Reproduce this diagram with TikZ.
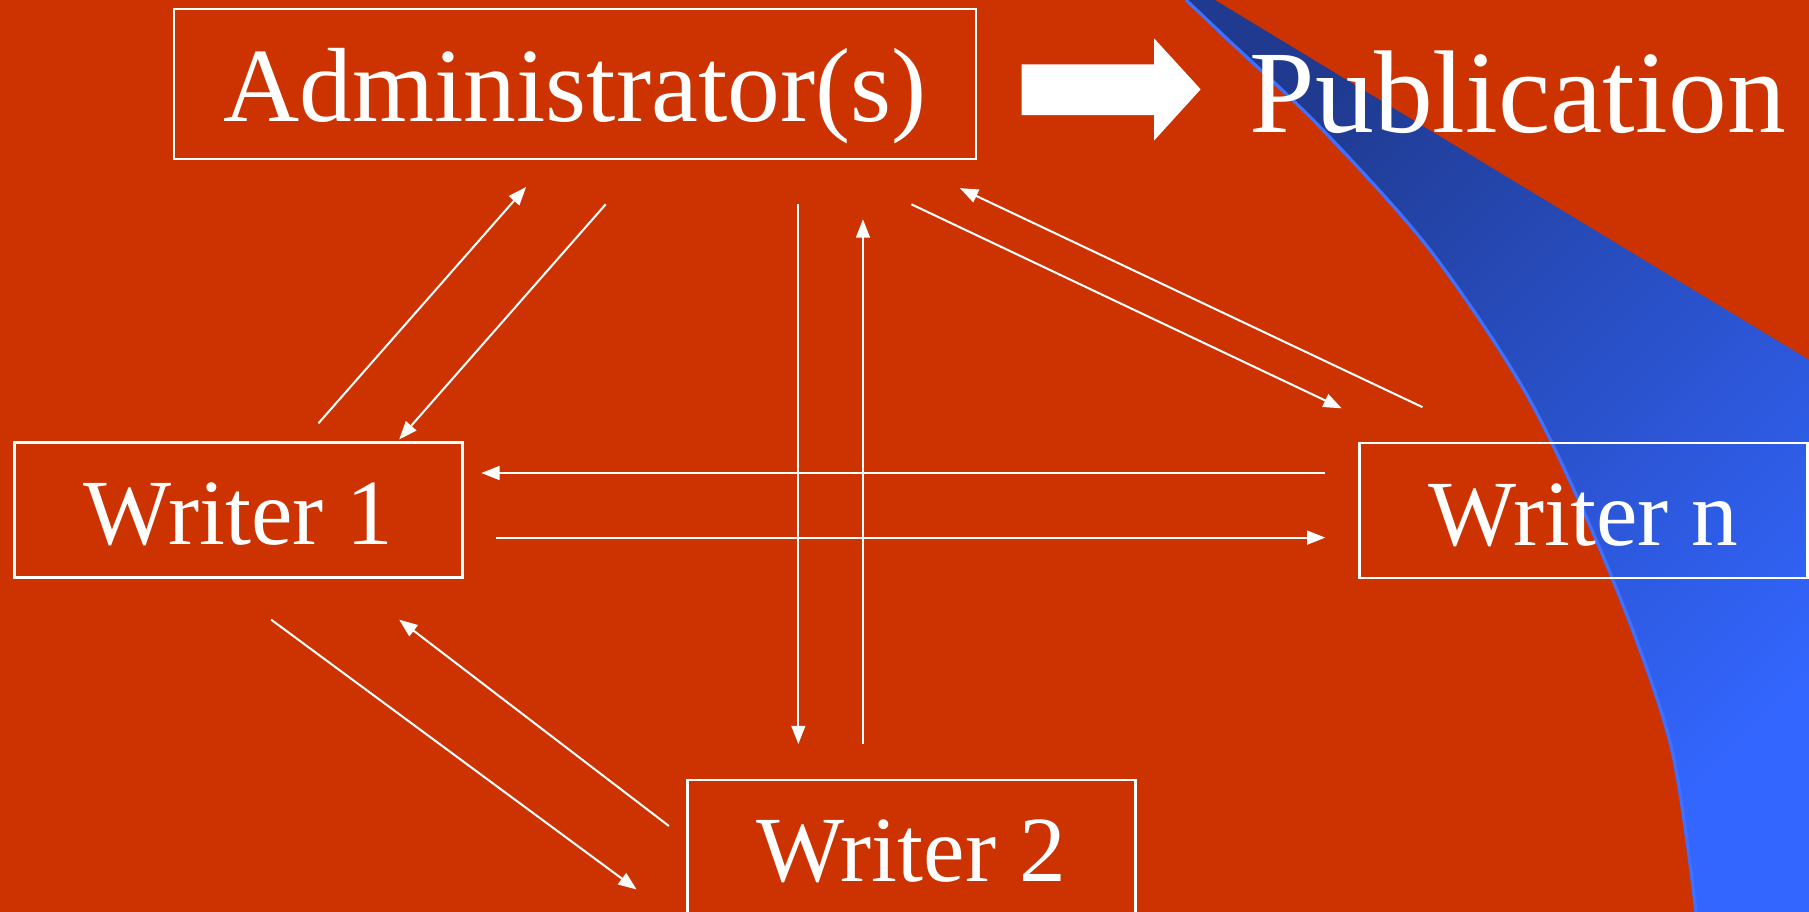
\documentclass[tikz,border=0pt]{standalone}
\usepackage{fontspec}
\setmainfont{Liberation Serif}
\usetikzlibrary{arrows.meta,calc}

\definecolor{slidered}{RGB}{204,51,0}
\definecolor{swooshdark}{RGB}{31,58,143}
\definecolor{swooshblue}{RGB}{51,102,255}
\definecolor{swooshedge}{RGB}{64,112,255}

\tikzset{
  box/.style={draw=white,line width=0.6pt,text=white,inner sep=0pt},
  writer/.style={box,minimum width=3.88cm,minimum height=1.17cm,
    font=\fontsize{23}{28}\selectfont,text height=17pt,text depth=0pt},
  flow/.style={white,line width=0.5pt,-{Triangle[length=4.5pt,width=3.4pt]}},
}

\begin{document}
\begin{tikzpicture}[x=0.01cm,y=-0.01cm]
    \useasboundingbox (0,0) rectangle (1568,790.5);
    \clip (0,0) rectangle (1568,790.5);
    \fill[slidered] (0,0) rectangle (1568,790.5);

    % blue swoosh
    \shade[top color=swooshdark,bottom color=swooshblue,shading angle=45]
        plot[smooth] coordinates {(1028,0) (1065,35) (1144,110) (1239.5,216.7)
            (1326,346.7) (1397,500) (1448,645) (1470,790.5)}
        -- (1568,790.5) -- (1568,312) -- (1053,0) -- cycle;
    \draw[swooshedge,line width=0.8pt]
        plot[smooth] coordinates {(1028,0) (1065,35) (1144,110) (1239.5,216.7)
            (1326,346.7) (1397,500) (1448,645) (1470,790.5)};

    \node[box,minimum width=6.95cm,minimum height=1.3cm,
        font=\fontsize{26}{31}\selectfont,text height=18.5pt,text depth=0pt]
        (adm) at (498.5,72.9) {Administrator(s)};
    \node[text=white,font=\fontsize{29}{35}\selectfont,anchor=base]
        (pub) at (1315.6,115) {Publication};

    \fill[white] (885.5,55.8) -- (1000.3,55.8) -- (1000.3,33.2) -- (1040.7,77.4)
        -- (1000.3,121.9) -- (1000.3,99.7) -- (885.5,99.7) -- cycle;

    \node[writer] (w1) at (206.8,442) {Writer 1};
    \node[writer] (wn) at (1372.6,442.5) {Writer n};
    \node[writer] (w2) at (790,734.5) {Writer 2};

    \draw[flow] ($(w1.north)+(69.2,-15.5)$) -- ($(adm.south)+(-42.5,23.1)$);
    \draw[flow] ($(adm.south)+(26.5,38.1)$) -- ($(w1.north)+(139.2,-1.5)$);

    \draw[flow] ($(adm.south)+(193.5,38.1)$) -- ($(w2.north)+(-98,-30)$);
    \draw[flow] ($(w2.north)+(-42,-30)$) -- ($(adm.south)+(249.5,51.1)$);

    \draw[flow] ($(adm.south)+(291.5,38.1)$) -- ($(wn.north)+(-209.6,-29)$);
    \draw[flow] ($(wn.north)+(-139.6,-30)$) -- ($(adm.south)+(333.5,24.1)$);

    \draw[flow] ($(wn.west)+(-28.6,-32.5)$) -- ($(w1.east)+(15.2,-32)$);
    \draw[flow] ($(w1.east)+(28.2,24)$) -- ($(wn.west)+(-28.6,23.5)$);

    \draw[flow] ($(w1.south)+(28.2,35.5)$) -- ($(w2.west)+(-43,36.5)$);
    \draw[flow] ($(w2.west)+(-15,-18.5)$) -- ($(w1.south)+(139.2,35.5)$);
\end{tikzpicture}
\end{document}
